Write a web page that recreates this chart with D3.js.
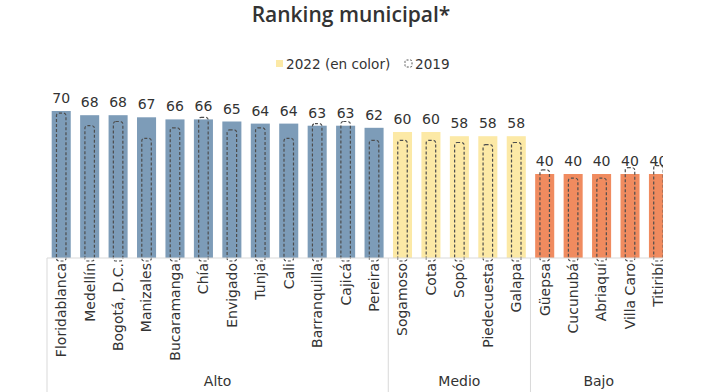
<!DOCTYPE html>
<html><head><meta charset="utf-8">
<script src="https://cdn.jsdelivr.net/npm/d3@7"></script>
<style>body{margin:0;background:#fff}svg{display:block}</style>
</head><body>
<script>
const categories = ["Floridablanca","Medellín","Bogotá, D.C.","Manizales","Bucaramanga","Chía","Envigado","Tunja","Cali","Barranquilla","Cajicá","Pereira","Sogamoso","Cota","Sopó","Piedecuesta","Galapa","Güepsa","Cucunubá","Abriaquí","Villa Caro","Titiribí"];
const groups = ["Alto","Alto","Alto","Alto","Alto","Alto","Alto","Alto","Alto","Alto","Alto","Alto","Medio","Medio","Medio","Medio","Medio","Bajo","Bajo","Bajo","Bajo","Bajo"];
const values2022 = [70,68,68,67,66,66,65,64,64,63,63,62,60,60,58,58,58,40,40,40,40,40];
const values2019 = [69,63,65,57,62,67,61,62,57,64,65,56,56,56,55,54,55,42,38,38,43,44];
const groupNames = ["Alto","Medio","Bajo"];
const groupColors = ["#7d9cb8","#fce9a6","#f08b5f"];

const W=706,H=392;
const svg=d3.select("body").append("svg").attr("width",W).attr("height",H);
const font="DejaVu Sans";
const txt="#333";

svg.append("defs").append("clipPath").attr("id","clip").append("rect").attr("x",0).attr("y",0).attr("width",663).attr("height",H);
const g=svg.append("g").attr("clip-path","url(#clip)");

const x=d3.scaleBand().domain(categories).range([47,47+22*28.44]).paddingInner(0.33).paddingOuter(0.165);
const y=d3.scaleLinear().domain([0,70]).range([258,111]);
const color=d3.scaleOrdinal().domain(groupNames).range(groupColors);

// title
svg.append("text").attr("x",351).attr("y",22).attr("text-anchor","middle")
  .attr("font-family","Open Sans").attr("font-weight",600).attr("font-size",21).attr("fill",txt)
  .text("Ranking municipal*");

// legend
const lg=svg.append("g").attr("font-family",font).attr("font-size",13.6).attr("fill",txt);
lg.append("rect").attr("x",276).attr("y",60).attr("width",7).attr("height",7).attr("fill","#fce9a6");
lg.append("text").attr("x",286).attr("y",69).text("2022 (en color)");
lg.append("rect").attr("x",405).attr("y",60).attr("width",7).attr("height",7).attr("rx",1.5).attr("fill","none")
  .attr("stroke","#555").attr("stroke-width",1).attr("stroke-dasharray","2,1.5");
lg.append("text").attr("x",415).attr("y",69).text("2019");

// bars
g.selectAll("rect.b").data(categories).join("rect").attr("class","b")
  .attr("x",d=>x(d)).attr("width",x.bandwidth())
  .attr("y",(d,i)=>y(values2022[i])).attr("height",(d,i)=>y(0)-y(values2022[i]))
  .attr("fill",(d,i)=>color(groups[i]));

// 2019 dashed boxes
const bw=9.5;
g.selectAll("rect.o").data(categories).join("rect").attr("class","o")
  .attr("x",d=>x(d)+x.bandwidth()/2-bw/2).attr("width",bw)
  .attr("y",(d,i)=>y(values2019[i])).attr("height",(d,i)=>y(0)-y(values2019[i])+3)
  .attr("rx",2.5).attr("fill","none").attr("stroke","#4d4d4d").attr("stroke-width",1.2).attr("stroke-dasharray","3,2");

// value labels
g.selectAll("text.v").data(categories).join("text").attr("class","v")
  .attr("x",d=>x(d)+x.bandwidth()/2).attr("y",(d,i)=>y(values2022[i])-8)
  .attr("text-anchor","middle").attr("font-family",font).attr("font-size",14).attr("fill",txt)
  .text((d,i)=>values2022[i]);

// axis
const base=258;
g.append("line").attr("x1",47).attr("x2",706).attr("y1",base).attr("y2",base).attr("stroke","#d9d9d9");
const xa=g.append("g").attr("transform",`translate(0,${base})`).call(d3.axisBottom(x).tickSize(0).tickPadding(0));
xa.select(".domain").remove();
xa.selectAll("text").attr("font-family",font).attr("font-size",14).attr("fill",txt)
  .attr("transform","rotate(-90)").attr("text-anchor","end").attr("dy","0.35em").attr("dx",0).attr("x",-5).attr("y",0);

// group separators and labels
const bounds=[];
groupNames.forEach(gn=>{
  const idx=groups.map((v,i)=>v===gn?i:-1).filter(i=>i>=0);
  const x0=x(categories[idx[0]])-x.step()*x.paddingInner()/2;
  const x1=x(categories[idx[idx.length-1]])+x.bandwidth()+x.step()*x.paddingInner()/2;
  bounds.push([x0,x1,gn]);
});
bounds.forEach(([x0,x1,gn])=>{
  g.append("line").attr("x1",x0).attr("x2",x0).attr("y1",base).attr("y2",H).attr("stroke","#d9d9d9");
  g.append("text").attr("x",(x0+Math.min(x1,663))/2 + (gn==="Bajo"?2:0)).attr("y",386).attr("text-anchor","middle")
    .attr("font-family",font).attr("font-size",14).attr("fill",txt).text(gn);
});
</script>
</body></html>
